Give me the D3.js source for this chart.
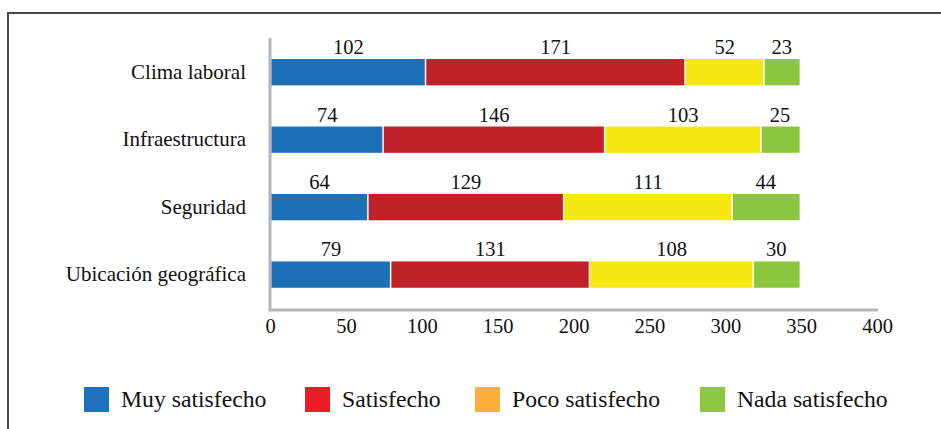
<!DOCTYPE html>
<html><head><meta charset="utf-8">
<script src="https://cdn.jsdelivr.net/npm/d3@7"></script>
<style>html,body{margin:0;padding:0;background:#fff;overflow:hidden}</style>
</head><body>
<svg id="c" width="941" height="429"></svg>
<script>
const categories = ["Clima laboral", "Infraestructura", "Seguridad", "Ubicación geográfica"];
const seriesNames = ["Muy satisfecho", "Satisfecho", "Poco satisfecho", "Nada satisfecho"];
const muySatisfecho = [102, 74, 64, 79];
const satisfecho = [171, 146, 129, 131];
const pocoSatisfecho = [52, 103, 111, 108];
const nadaSatisfecho = [23, 25, 44, 30];
const xTicks = [0, 50, 100, 150, 200, 250, 300, 350, 400];
const barColors = ["#1c70b8", "#c02027", "#f6e913", "#8cc63e"];
const legendColors = ["#1f72bb", "#ed1c24", "#fbb03b", "#8dc63f"];

const seriesValues = [muySatisfecho, satisfecho, pocoSatisfecho, nadaSatisfecho];
const svg = d3.select("#c");
const font = '"Liberation Serif"';

// frame
svg.append("path").attr("d", "M8,1000 L8,13 L945,13")
  .attr("fill", "none").attr("stroke", "#4a4a4a").attr("stroke-width", 2);

const x = d3.scaleLinear().domain([0, 400]).range([270, 877]);
const y = d3.scaleBand().domain(categories).range([38.8, 308]).paddingInner(0.61).paddingOuter(0.3);

const rows = categories.map((c, i) => {
  let acc = 0;
  return seriesValues.map((s, k) => { const d = {cat: c, k, v: s[i], x0: acc, x1: acc + s[i]}; acc += s[i]; return d; });
}).flat();

// axes lines
svg.append("line").attr("x1", x(0)).attr("x2", x(0)).attr("y1", 38).attr("y2", 311)
  .attr("stroke", "#b5b5b5").attr("stroke-width", 3);
svg.append("line").attr("x1", x(0) - 1.5).attr("x2", x(400) + 1).attr("y1", 310).attr("y2", 310)
  .attr("stroke", "#b5b5b5").attr("stroke-width", 3);

// x ticks
const xa = svg.append("g").attr("transform", "translate(0,318)")
  .call(d3.axisBottom(x).tickValues(xTicks).tickSize(0).tickPadding(0).tickFormat(d3.format("d")));
xa.attr("font-family", null).attr("font-size", null);
xa.select(".domain").remove();
xa.selectAll("text").style("font-family", font).style("font-size", "20.5px").attr("fill", "#111").attr("dy", "0.71em");

// y labels
const ya = svg.append("g").attr("transform", "translate(246,0)")
  .call(d3.axisLeft(y).tickSize(0).tickPadding(0));
ya.attr("font-family", null).attr("font-size", null);
ya.select(".domain").remove();
ya.selectAll("text").style("font-family", font).style("font-size", "21px").attr("fill", "#111");

// bars
svg.append("g").selectAll("rect").data(rows).join("rect")
  .attr("x", d => x(d.x0) + 1.5)
  .attr("y", d => y(d.cat))
  .attr("width", d => x(d.x1) - x(d.x0) - (d.k < 3 ? 1.5 : 0))
  .attr("height", y.bandwidth())
  .attr("fill", d => barColors[d.k]);

// value labels
svg.append("g").selectAll("text").data(rows).join("text")
  .attr("x", d => (x(d.x0) + x(d.x1)) / 2 + 1)
  .attr("y", d => y(d.cat) - 5)
  .attr("text-anchor", "middle")
  .style("font-family", font).style("font-size", "20.5px").attr("fill", "#111")
  .text(d => d.v);

// legend
const legendX = [84, 305, 475, 700];
const lg = svg.append("g").selectAll("g").data(seriesNames).join("g")
  .attr("transform", (d, i) => `translate(${legendX[i]},387)`);
lg.append("rect").attr("width", 25).attr("height", 25).attr("fill", (d, i) => legendColors[i]);
lg.append("text").attr("x", 37).attr("y", 20).style("font-family", font).style("font-size", "23.7px")
  .attr("fill", "#111").text(d => d);
</script>
</body></html>
